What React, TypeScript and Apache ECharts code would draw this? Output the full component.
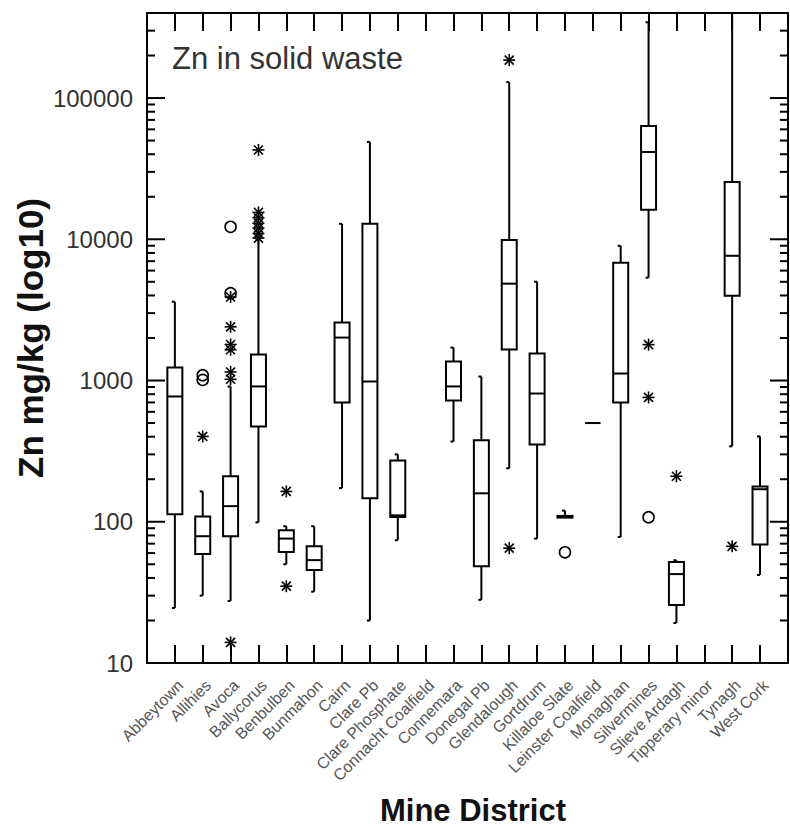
import React, { useEffect, useRef } from 'react';
import * as echarts from 'echarts';

// ---- data ----
const categories = [
  'Abbeytown', 'Allihies', 'Avoca', 'Ballycorus', 'Benbulben', 'Bunmahon', 'Cairn',
  'Clare Pb', 'Clare Phosphate', 'Connacht Coalfield', 'Connemara', 'Donegal Pb',
  'Glendalough', 'Gortdrum', 'Killaloe Slate', 'Leinster Coalfield', 'Monaghan',
  'Silvermines', 'Slieve Ardagh', 'Tipperary minor', 'Tynagh', 'West Cork',
];

const whiskerLow = [24.5, 30, 27.5, 99, 50, 32, 173, 20, 74, null, 370, 28, 239, 76, 107, 500, 78, 5350, 19.2, null, 342, 42];
const quartile1 = [113, 59, 79, 473, 61, 45.5, 700, 147, 108, null, 722, 48.5, 1656, 353, 107, 500, 700, 16160, 25.7, null, 3990, 69];
const medians = [771, 79, 129, 908, 76, 53.5, 2014, 984, 111, null, 908, 159, 4850, 809, 109, 500, 1121, 41500, 42.6, null, 7640, 170];
const quartile3 = [1236, 109, 210, 1528, 87, 67, 2570, 12870, 272, null, 1362, 377, 9900, 1553, 110, 500, 6825, 63400, 51.8, null, 25470, 178];
const whiskerHigh = [3614, 164, 908, 9900, 93, 93, 12870, 48900, 300, null, 1710, 1067, 129700, 5008, 120, 500, 8990, 344000, 53.4, null, 400000, 402];

// outliers: [category index, value]
const asteriskOutliers: [number, number][] = [
  [1, 402],
  [2, 3900], [2, 2400], [2, 1800], [2, 1650], [2, 1150], [2, 1020], [2, 14],
  [3, 42900], [3, 15500], [3, 14200], [3, 13000], [3, 12000], [3, 11000], [3, 10200],
  [4, 164], [4, 35],
  [12, 185700], [12, 65],
  [17, 1795], [17, 759],
  [18, 210],
  [20, 67],
];
const circleOutliers: [number, number][] = [
  [1, 1010], [1, 1090],
  [2, 12250], [2, 4150],
  [14, 60.8],
  [17, 107.7],
];

const majorTicks = [10, 100, 1000, 10000, 100000];
const minorTicks = [
  20, 30, 40, 50, 60, 70, 80, 90,
  200, 300, 400, 500, 600, 700, 800, 900,
  2000, 3000, 4000, 5000, 6000, 7000, 8000, 9000,
  20000, 30000, 40000, 50000, 60000, 70000, 80000, 90000,
  200000, 300000,
];
const yMin = 10;
const yMax = 400000;
const xMin = -1;
const xMax = 22;

const FONT = '"Liberation Sans", Arial, sans-serif';

export default function App() {
  const ref = useRef<HTMLDivElement>(null);

  useEffect(() => {
    if (!ref.current) return;
    const chart = echarts.init(ref.current, null, { renderer: 'svg' });

    const boxData: number[][] = [];
    categories.forEach((_, i) => {
      if (medians[i] == null) return;
      boxData.push([i, whiskerLow[i] as number, quartile1[i] as number, medians[i] as number, quartile3[i] as number, whiskerHigh[i] as number]);
    });

    const tickData: number[][] = [
      ...majorTicks.map((v) => [v, 18]),
      ...minorTicks.map((v) => [v, 8]),
    ];

    const black = '#000';
    const lw = 2;

    const baseX = {
      type: 'value',
      min: xMin,
      max: xMax,
      interval: 1,
      splitLine: { show: false },
      axisLine: { show: true, onZero: false, lineStyle: { color: black, width: lw } },
      axisTick: { show: true, inside: true, length: 18, lineStyle: { color: black, width: lw } },
    };
    const baseY = {
      type: 'log',
      logBase: 10,
      min: yMin,
      max: yMax,
      splitLine: { show: false },
      minorTick: { show: false },
      axisTick: { show: false },
    };

    const option: any = {
      animation: false,
      backgroundColor: '#fff',
      grid: { left: 147, top: 13, right: -2, bottom: 164, containLabel: false },
      xAxis: [
        {
          ...baseX,
          position: 'bottom',
          axisLabel: {
            show: true,
            rotate: 45,
            margin: 14,
            fontSize: 16,
            fontFamily: FONT,
            color: '#555',
            verticalAlign: 'top',
            formatter: (v: number) => (categories[v] !== undefined ? categories[v] : ''),
          },
        },
        {
          ...baseX,
          position: 'top',
          axisLabel: { show: false },
        },
      ],
      yAxis: [
        {
          ...baseY,
          position: 'left',
          axisLine: { show: true, onZero: false, lineStyle: { color: black, width: lw } },
          axisLabel: {
            show: true,
            margin: 14,
            fontSize: 24,
            fontFamily: FONT,
            color: '#333',
            formatter: (v: number) => {
              const r = Math.round(v);
              return majorTicks.indexOf(r) >= 0 ? String(r) : '';
            },
          },
        },
        {
          ...baseY,
          position: 'right',
          axisLine: { show: true, onZero: false, lineStyle: { color: black, width: lw } },
          axisLabel: { show: false },
        },
      ],
      graphic: [
        {
          type: 'text',
          x: 172,
          y: 58,
          style: { text: 'Zn in solid waste', fontSize: 31, fontFamily: FONT, fill: '#333', align: 'left', verticalAlign: 'middle' },
        },
        {
          type: 'text',
          x: 30,
          y: 338,
          rotation: Math.PI / 2,
          style: { text: 'Zn mg/kg (log10)', fontSize: 35, fontWeight: 'bold', fontFamily: FONT, fill: '#111', align: 'center', verticalAlign: 'middle' },
        },
        {
          type: 'text',
          x: 473,
          y: 810,
          style: { text: 'Mine District', fontSize: 31, fontWeight: 'bold', fontFamily: FONT, fill: '#111', align: 'center', verticalAlign: 'middle' },
        },
      ],
      series: [
        {
          type: 'custom',
          name: 'yticks',
          xAxisIndex: 0,
          yAxisIndex: 0,
          data: tickData,
          encode: { y: 0 },
          renderItem: (params: any, api: any) => {
            const v = api.value(0);
            const len = api.value(1);
            const pl = api.coord([xMin, v]);
            const pr = api.coord([xMax, v]);
            const st = { stroke: black, lineWidth: lw };
            return {
              type: 'group',
              children: [
                { type: 'line', shape: { x1: pl[0], y1: pl[1], x2: pl[0] + len, y2: pl[1] }, style: st },
                { type: 'line', shape: { x1: pr[0] - len, y1: pr[1], x2: pr[0], y2: pr[1] }, style: st },
              ],
            };
          },
          z: 2,
        },
        {
          type: 'custom',
          name: 'boxes',
          xAxisIndex: 0,
          yAxisIndex: 0,
          data: boxData,
          encode: { x: 0, y: [1, 2, 3, 4, 5] },
          renderItem: (params: any, api: any) => {
            const x = api.value(0);
            const lo = api.value(1);
            const a = api.value(2);
            const m = api.value(3);
            const b = api.value(4);
            const hi = api.value(5);
            const pLo = api.coord([x, lo]);
            const pA = api.coord([x, a]);
            const pM = api.coord([x, m]);
            const pB = api.coord([x, b]);
            const pHi = api.coord([x, hi]);
            const cx = pM[0];
            const hw = 7.5;
            const st = { stroke: black, lineWidth: lw, fill: null };
            const children: any[] = [];
            if (hi > b) {
              children.push({ type: 'line', shape: { x1: cx, y1: pB[1], x2: cx, y2: pHi[1] }, style: st });
              children.push({ type: 'line', shape: { x1: cx - 3, y1: pHi[1], x2: cx, y2: pHi[1] }, style: st });
            }
            if (lo < a) {
              children.push({ type: 'line', shape: { x1: cx, y1: pA[1], x2: cx, y2: pLo[1] }, style: st });
              children.push({ type: 'line', shape: { x1: cx - 3, y1: pLo[1], x2: cx, y2: pLo[1] }, style: st });
            }
            children.push({
              type: 'rect',
              shape: { x: cx - hw, y: pB[1], width: hw * 2, height: Math.max(pA[1] - pB[1], 0) },
              style: { stroke: black, lineWidth: lw, fill: 'none' },
            });
            children.push({ type: 'line', shape: { x1: cx - hw, y1: pM[1], x2: cx + hw, y2: pM[1] }, style: st });
            return { type: 'group', children };
          },
          z: 3,
        },
        {
          type: 'custom',
          name: 'asterisks',
          xAxisIndex: 0,
          yAxisIndex: 0,
          data: asteriskOutliers,
          encode: { x: 0, y: 1 },
          renderItem: (params: any, api: any) => {
            const p = api.coord([api.value(0), api.value(1)]);
            const st = { stroke: black, lineWidth: 1.6 };
            const cx = p[0];
            const cy = p[1];
            return {
              type: 'group',
              children: [
                { type: 'line', shape: { x1: cx - 6, y1: cy, x2: cx + 6, y2: cy }, style: st },
                { type: 'line', shape: { x1: cx, y1: cy - 6, x2: cx, y2: cy + 6 }, style: st },
                { type: 'line', shape: { x1: cx - 4.5, y1: cy - 4.5, x2: cx + 4.5, y2: cy + 4.5 }, style: st },
                { type: 'line', shape: { x1: cx - 4.5, y1: cy + 4.5, x2: cx + 4.5, y2: cy - 4.5 }, style: st },
              ],
            };
          },
          z: 4,
        },
        {
          type: 'custom',
          name: 'circles',
          xAxisIndex: 0,
          yAxisIndex: 0,
          data: circleOutliers,
          encode: { x: 0, y: 1 },
          renderItem: (params: any, api: any) => {
            const p = api.coord([api.value(0), api.value(1)]);
            return {
              type: 'circle',
              shape: { cx: p[0], cy: p[1], r: 5.5 },
              style: { fill: 'none', stroke: black, lineWidth: 1.6 },
            };
          },
          z: 4,
        },
      ],
    };

    chart.setOption(option);
    return () => chart.dispose();
  }, []);

  return (
    <div
      ref={ref}
      style={{ position: 'fixed', left: 0, top: 0, width: 790, height: 827, background: '#fff' }}
    />
  );
}
